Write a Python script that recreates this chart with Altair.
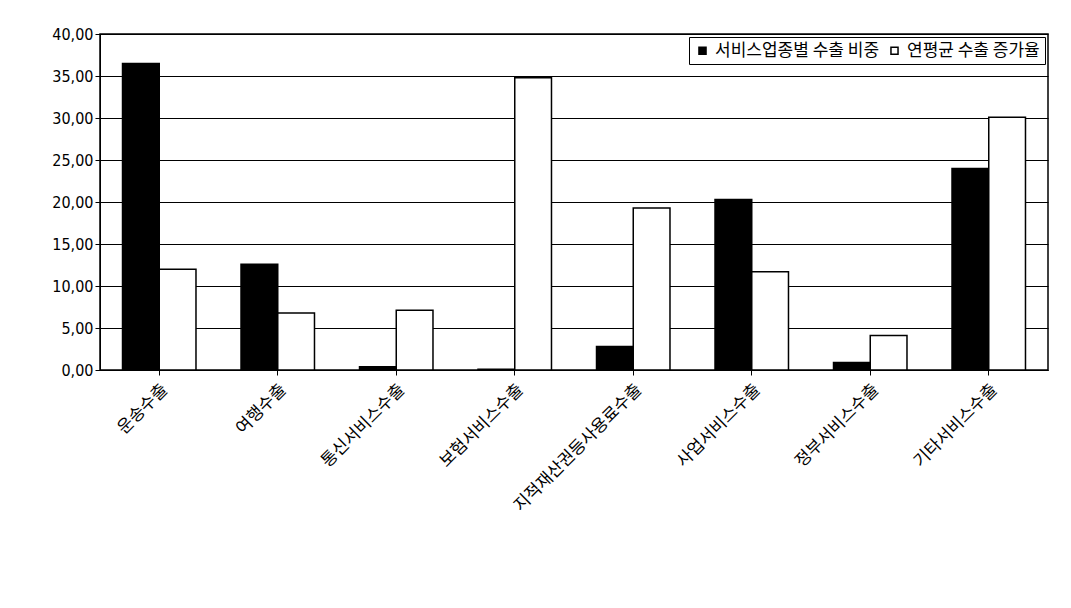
import altair as alt
import pandas as pd

cats = ["운송수출", "여행수출", "통신서비스수출", "보험서비스수출", "지적재산권등사용료수출", "사업서비스수출", "정부서비스수출", "기타서비스수출"]
share = [36.5, 12.6, 0.4, 0.1, 2.8, 20.3, 0.9, 24.0]
growth = [12.0, 6.8, 7.1, 34.8, 19.3, 11.7, 4.1, 30.1]
series = ["서비스업종별 수출 비중", "연평균 수출 증가율"]

rows = []
for c, s, g in zip(cats, share, growth):
    rows.append({"cat": c, "series": series[0], "v": s})
    rows.append({"cat": c, "series": series[1], "v": g})
df = pd.DataFrame(rows)

font = "Noto Sans CJK KR"
chart = alt.Chart(df).mark_bar(stroke="black", strokeWidth=1.5).encode(
    x=alt.X("cat:N", sort=cats, title=None,
            scale=alt.Scale(paddingInner=0.38, paddingOuter=0.19),
            axis=alt.Axis(labelAngle=-45, labelFontSize=17, labelFont=font, labelColor="black",
                          domainColor="black", tickColor="black", labelPadding=6)),
    xOffset=alt.XOffset("series:N", sort=series),
    y=alt.Y("v:Q", title=None, scale=alt.Scale(domain=[0, 40]),
            axis=alt.Axis(values=[0, 5, 10, 15, 20, 25, 30, 35, 40],
                          labelExpr="replace(format(datum.value,'.2f'),'.',',')",
                          labelFontSize=16, labelFont="DejaVu Sans Condensed", labelColor="black",
                          gridColor="black", gridWidth=1, domainColor="black", tickColor="black")),
    color=alt.Color("series:N", sort=series,
                    scale=alt.Scale(domain=series, range=["black", "white"]),
                    legend=alt.Legend(title=None, orient="top-right", direction="horizontal",
                                      symbolType="square", symbolStrokeColor="black", symbolSize=50,
                                      labelFont=font, labelFontSize=17, labelColor="black", labelLimit=0,
                                      fillColor="white", strokeColor="black", padding=5, offset=3,
                                      columnPadding=6, symbolOffset=0)),
).properties(width=948, height=336, padding={"left": 43, "top": 18, "right": 5, "bottom": 5}
).configure_view(stroke="black", strokeWidth=1.5)

chart.save("out.html", embed_options={"renderer": "svg", "actions": False})
